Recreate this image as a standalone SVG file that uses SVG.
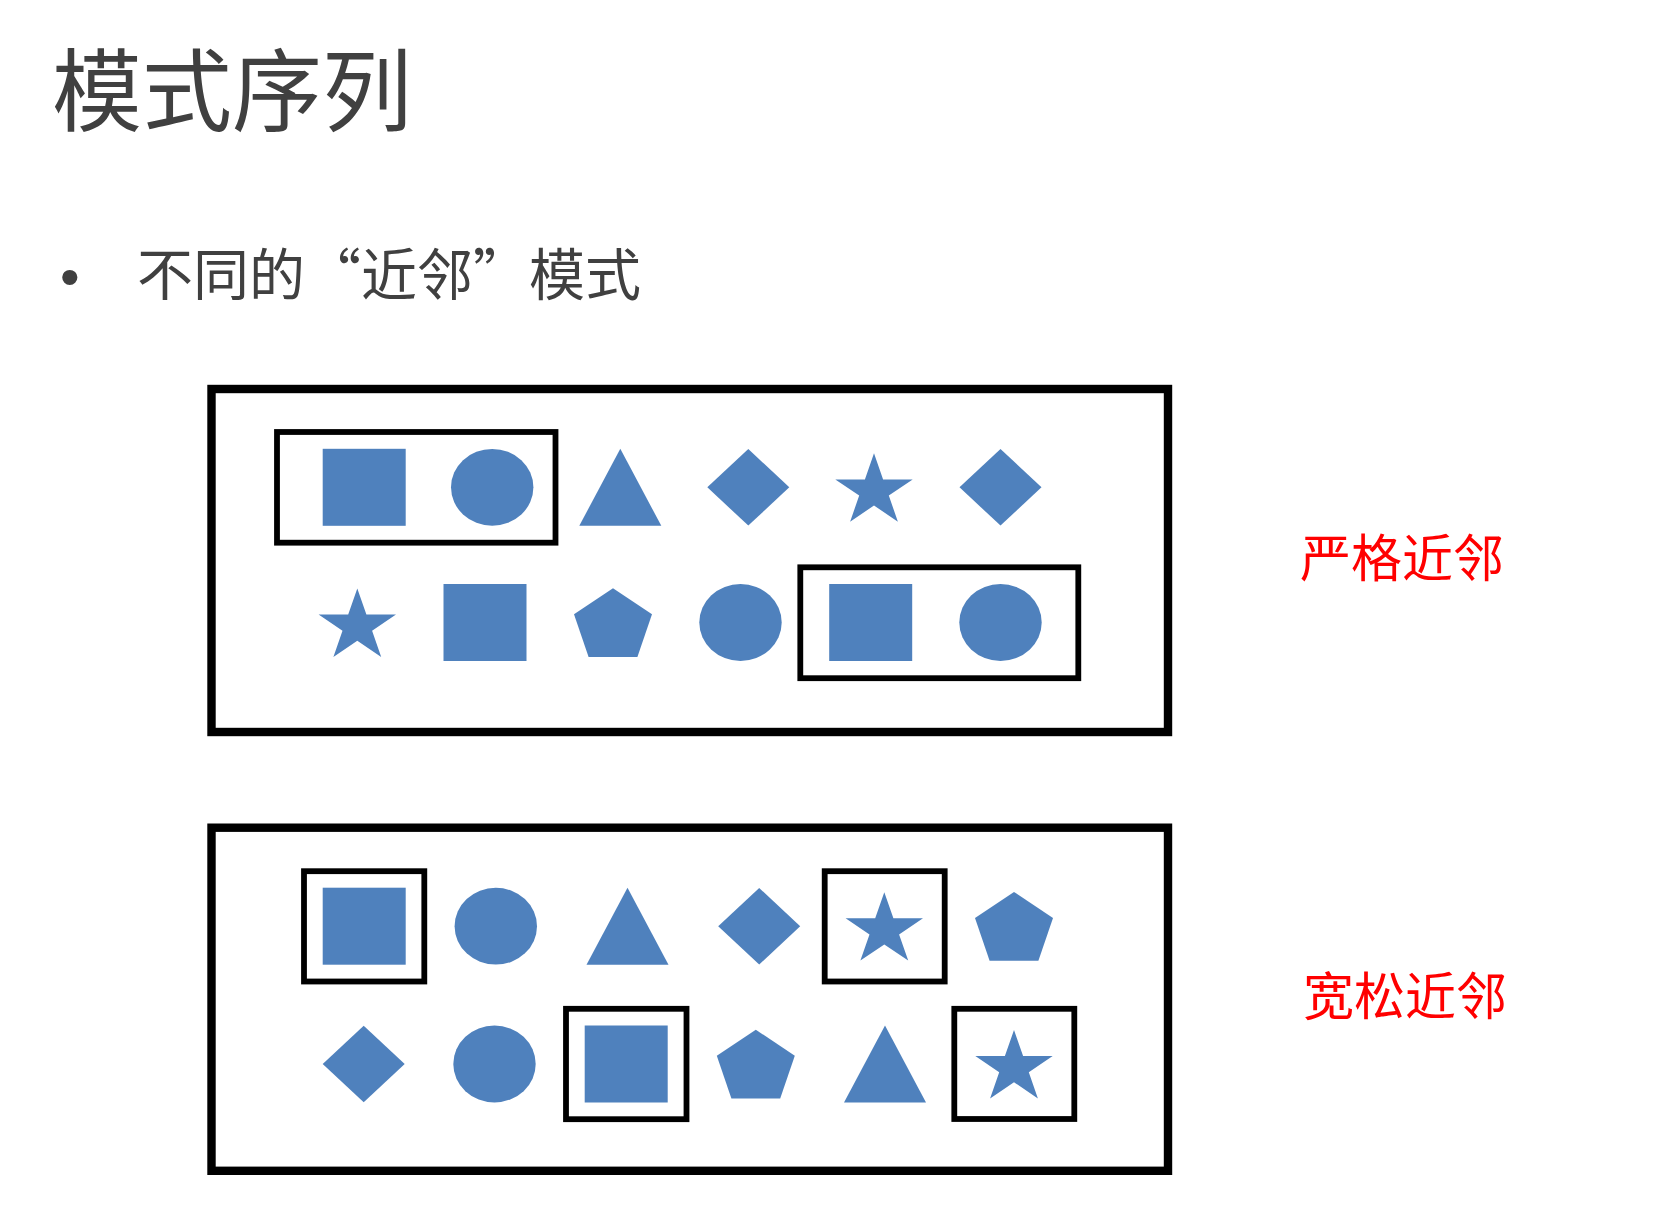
<svg xmlns="http://www.w3.org/2000/svg" xmlns:xlink="http://www.w3.org/1999/xlink" width="1680" height="1218" viewBox="0 0 1680 1218">
<style>
.frame{fill:none;stroke:#000;stroke-width:8.4}
.sel{fill:none;stroke:#000;stroke-width:5.8}
.shp{fill:#4F81BD}
.title{font-family:"Noto Sans CJK SC","Noto Sans",sans-serif;font-size:90px;fill:#404040}
.sub{font-family:"Noto Sans CJK SC","Noto Sans",sans-serif;font-size:56px;fill:#404040}
.bul{font-family:"Liberation Sans",Arial,sans-serif;font-size:56px;fill:#404040}
.lbl{font-family:"Noto Sans CJK SC","Noto Sans",sans-serif;font-size:51px;fill:#FF0000}
</style>
<defs>
<rect id="sq" class="shp" x="-41.5" y="-38.5" width="83" height="77"/>
<ellipse id="ci" class="shp" cx="0" cy="0" rx="41.2" ry="38.4"/>
<polygon id="tr" class="shp" points="0,-38.5 41,38.5 -41,38.5"/>
<polygon id="di" class="shp" points="0,-38.3 41,0 0,38.3 -41,0"/>
<path id="st" class="shp" d="M0,-34 L9.1,-7.9 L38.7,-7.9 L14.8,8.3 L23.9,34.4 L0,18.2 L-23.9,34.4 L-14.8,8.3 L-38.7,-7.9 L-9.1,-7.9 Z"/>
<polygon id="pe" class="shp" points="0,-34.3 39,-8.2 24.4,34.6 -24.4,34.6 -39,-8.2"/>
</defs>
<rect width="1680" height="1218" fill="#fff"/>
<g id="title"><text class="title" x="52" y="124">模式序列</text></g>
<g id="bullet">
<text class="bul" x="60" y="296">•</text>
<text class="sub" x="137" y="295">不同的“近邻”模式</text>
</g>
<g id="strict">
<rect id="strict-frame" class="frame" x="211.5" y="389" width="956.5" height="343"/>
<g id="strict-row1">
<use xlink:href="#sq" x="364.2" y="487.3"/>
<use xlink:href="#ci" x="492.2" y="487.3"/>
<use xlink:href="#tr" x="620.3" y="487.3"/>
<use xlink:href="#di" x="748.3" y="487.3"/>
<use xlink:href="#st" x="874" y="487.3"/>
<use xlink:href="#di" x="1000.5" y="487.3"/>
</g>
<g id="strict-row2">
<use xlink:href="#st" x="357.3" y="622.5"/>
<use xlink:href="#sq" x="485" y="622.5"/>
<use xlink:href="#pe" x="613" y="622.5"/>
<use xlink:href="#ci" x="740.5" y="622.5"/>
<use xlink:href="#sq" x="870.7" y="622.5"/>
<use xlink:href="#ci" x="1000.5" y="622.5"/>
</g>
<rect id="strict-match1" class="sel" x="277" y="432" width="278.5" height="110.7"/>
<rect id="strict-match2" class="sel" x="800.3" y="567.3" width="278" height="110.9"/>
</g>
<g id="strict-label"><text class="lbl" x="1300" y="577">严格近邻</text></g>
<g id="loose">
<rect id="loose-frame" class="frame" x="211.5" y="827.7" width="956.5" height="343.1"/>
<g id="loose-row1">
<use xlink:href="#sq" x="364.2" y="926.2"/>
<use xlink:href="#ci" x="495.8" y="926.2"/>
<use xlink:href="#tr" x="627.5" y="926.2"/>
<use xlink:href="#di" x="759.2" y="926.2"/>
<use xlink:href="#st" x="884.3" y="926.2"/>
<use xlink:href="#pe" x="1014" y="926.2"/>
</g>
<g id="loose-row2">
<use xlink:href="#di" x="363.7" y="1064"/>
<use xlink:href="#ci" x="494.5" y="1064"/>
<use xlink:href="#sq" x="626.2" y="1064"/>
<use xlink:href="#pe" x="755.8" y="1064"/>
<use xlink:href="#tr" x="885" y="1064"/>
<use xlink:href="#st" x="1014" y="1064"/>
</g>
<rect id="loose-match1" class="sel" x="304" y="871.2" width="120.3" height="110.3"/>
<rect id="loose-match2" class="sel" x="824.7" y="871.2" width="120" height="110.3"/>
<rect id="loose-match3" class="sel" x="566" y="1008.8" width="120.5" height="110.4"/>
<rect id="loose-match4" class="sel" x="954.3" y="1008.8" width="120" height="110.2"/>
</g>
<g id="loose-label"><text class="lbl" x="1303" y="1015">宽松近邻</text></g>
<g id="connectors"/>
</svg>
